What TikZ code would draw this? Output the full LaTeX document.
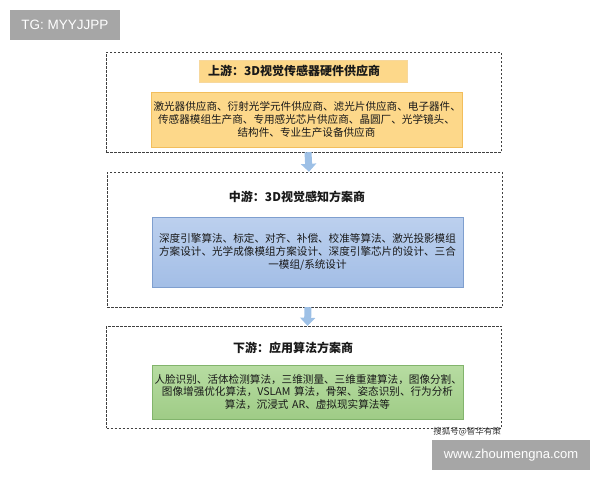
\documentclass[tikz,border=0pt]{standalone}
\usepackage{fontspec}
\setmainfont{Noto Sans CJK SC}
\newfontfamily\latinfont{Liberation Sans}
\usetikzlibrary{positioning,arrows.meta}
\definecolor{upfill}{HTML}{FDD88A}
\definecolor{upline}{HTML}{F2BE5C}
\definecolor{midtop}{HTML}{BCD0EE}
\definecolor{midbot}{HTML}{A3BEE6}
\definecolor{midline}{HTML}{7F9FCF}
\definecolor{lowtop}{HTML}{B7DCA2}
\definecolor{lowbot}{HTML}{9FCC86}
\definecolor{lowline}{HTML}{82B46C}
\definecolor{arrowblue}{HTML}{9DC0E6}
\definecolor{markgrey}{HTML}{A6A6A6}
\begin{document}
\begin{tikzpicture}[x=1pt, y=-1pt,
  stage/.style = {draw = black!75, dashed, dash pattern = on 2.5pt off 1.5pt,
                  minimum width = 395pt, inner sep = 0pt},
  title/.style = {font = \fontsize{12}{14}\selectfont\bfseries, text = black!90},
  content/.style = {draw, minimum width = 311pt, text width = 306pt, align = center,
                    inner sep = 0pt, font = \fontsize{10.6}{12.8}\selectfont, text = black!90},
  flow/.style = {arrowblue, line width = 7pt, -{Triangle[width = 15pt, length = 8pt]}},
  wmark/.style = {fill = markgrey, text = white, inner sep = 0pt}
  ]
  \useasboundingbox (0,0) rectangle (600,480);
  % watermarks
  \node[wmark, minimum width = 110pt, minimum height = 30pt, font = \latinfont\fontsize{13.5}{16}\selectfont]
    (tg) at (65,25) {TG: MYYJJPP};
  \node[wmark, minimum width = 158pt, minimum height = 30pt, font = \latinfont\fontsize{13}{16}\selectfont]
    (site) at (511,455) {www.zhoumengna.com};
  % three stages
  \node[stage, minimum height = 100pt] (up) at (303.5,102) {};
  \node[stage, minimum height = 135pt] (mid) at (304.5,239.5) {};
  \node[stage, minimum height = 102pt] (low) at (304,377) {};
  % upstream
  \node[title, fill = upfill, draw = upline!60, text width = 190pt, align = left,
        minimum height = 22pt, inner xsep = 9pt, inner ysep = 0pt]
    (uptitle) at (303,71) {上游：3D视觉传感器硬件供应商};
  \node[content, fill = upfill, draw = upline, minimum height = 55pt]
    (upbox) at (306.5,119.5) {激光器供应商、衍射光学元件供应商、滤光片供应商、电子器件、\\
    传感器模组生产商、专用感光芯片供应商、晶圆厂、光学镜头、\\结构件、专业生产设备供应商};
  % midstream
  \node[title] (midtitle) at (297,197) {中游：3D视觉感知方案商};
  \node[content, top color = midtop, bottom color = midbot, draw = midline, minimum height = 70pt]
    (midbox) at (307.5,252) {深度引擎算法、标定、对齐、补偿、校准等算法、激光投影模组\\
    方案设计、光学成像模组方案设计、深度引擎芯片的设计、三合\\一模组/系统设计};
  % downstream
  \node[title] (lowtitle) at (293,348) {下游：应用算法方案商};
  \node[content, top color = lowtop, bottom color = lowbot, draw = lowline, minimum height = 54pt]
    (lowbox) at (307.5,392) {人脸识别、活体检测算法，三维测量、三维重建算法，图像分割、\\
    图像增强优化算法，VSLAM 算法，骨架、姿态识别、行为分析\\算法，沉浸式 AR、虚拟现实算法等};
  \node[font = \fontsize{8.5}{10}\selectfont, text = black!80, inner sep = 0pt, anchor = east]
    (source) at (501,432) {搜狐号@智华有策};
  % flow arrows
  \draw[flow] ([xshift = 4.5pt]up.south) -- ([xshift = 4.5pt]mid.north);
  \draw[flow] ([xshift = 3.5pt]mid.south) -- ([xshift = 3.5pt]low.north);
\end{tikzpicture}
\end{document}
